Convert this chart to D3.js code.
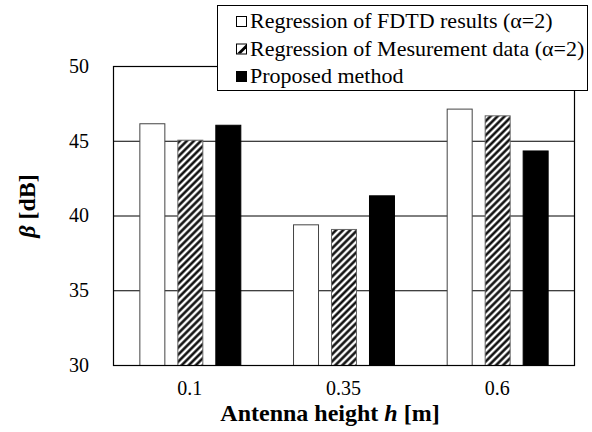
<!DOCTYPE html>
<html>
<head>
<meta charset="utf-8">
<script src="https://cdn.jsdelivr.net/npm/d3@7"></script>
<style>
    body { margin: 0; background: #fff; }
</style>
</head>
<body>
<div id="chart"></div>
<script>
const categories = ['0.1', '0.35', '0.6'];
const seriesNames = ['Regression of FDTD results (α=2)', 'Regression of Mesurement data (α=2)', 'Proposed method'];
const fdtdValues = [46.17, 39.41, 47.15];
const measuredValues = [45.07, 39.10, 46.70];
const proposedValues = [46.07, 41.35, 44.35];
const yTicks = [30, 35, 40, 45, 50];

const FONT = '"Liberation Serif", "Times New Roman", Times, serif';
const W = 592, H = 432;
const margin = { top: 66, right: 18, bottom: 67, left: 113 };
const width = W - margin.left - margin.right;
const height = H - margin.top - margin.bottom;

const svgRoot = d3.select('#chart')
    .append('svg')
        .attr('width', W)
        .attr('height', H)
        .style('font-family', FONT);

// hatch pattern for measured data
const defs = svgRoot.append('defs');
defs.append('pattern')
    .attr('id', 'hatch')
    .attr('patternUnits', 'userSpaceOnUse')
    .attr('width', 5)
    .attr('height', 5)
    .attr('patternTransform', 'rotate(45)')
    .call(p => {
        p.append('rect').attr('width', 5).attr('height', 5).attr('fill', '#fff');
        p.append('line').attr('x1', 1.5).attr('y1', 0).attr('x2', 1.5).attr('y2', 5)
            .attr('stroke', '#000').attr('stroke-width', 2.4);
    });

const svg = svgRoot.append('g')
    .attr('transform', 'translate(' + margin.left + ',' + margin.top + ')');

const series = [
    { name: seriesNames[0], values: fdtdValues, fill: '#fff', stroke: '#444' },
    { name: seriesNames[1], values: measuredValues, fill: 'url(#hatch)', stroke: '#666' },
    { name: seriesNames[2], values: proposedValues, fill: '#000', stroke: '#000' }
];

const x0 = d3.scaleBand()
    .domain(categories)
    .range([0, width])
    .paddingInner(0.343)
    .paddingOuter(0.1715);

const x1 = d3.scaleBand()
    .domain(d3.range(series.length))
    .range([0, x0.bandwidth()])
    .paddingInner(0.342)
    .paddingOuter(0);

const y = d3.scaleLinear()
    .domain([30, 50])
    .range([height, 0]);

// gridlines
svg.append('g')
    .selectAll('line')
    .data(yTicks.slice(1, -1))
    .enter().append('line')
        .attr('x1', 0)
        .attr('x2', width)
        .attr('y1', d => y(d) + 0.5)
        .attr('y2', d => y(d) + 0.5)
        .attr('stroke', '#000')
        .attr('stroke-width', 1);

// bars
const groups = svg.selectAll('.group')
    .data(categories)
    .enter().append('g')
        .attr('class', 'group')
        .attr('transform', d => 'translate(' + x0(d) + ',0)');

groups.selectAll('rect')
    .data((d, i) => series.map((s, j) => ({ j: j, s: s, v: s.values[i] })))
    .enter().append('rect')
        .attr('x', d => x1(d.j) + 0.5)
        .attr('y', d => y(d.v) + 0.5)
        .attr('width', x1.bandwidth())
        .attr('height', d => y(30) - y(d.v))
        .attr('fill', d => d.s.fill)
        .attr('stroke', d => d.s.stroke)
        .attr('stroke-width', 1);

// frame
svg.append('rect')
    .attr('x', 0.5)
    .attr('y', 0.5)
    .attr('width', width)
    .attr('height', height)
    .attr('fill', 'none')
    .attr('stroke', '#000')
    .attr('stroke-width', 1.2);

// y axis labels
const yAxis = d3.axisLeft(y).tickValues(yTicks).tickSize(0).tickPadding(24);
svg.append('g')
    .call(yAxis)
    .attr('font-family', null)
    .attr('font-size', null)
    .call(g => g.select('.domain').remove())
    .selectAll('text')
        .style('font-family', FONT)
        .style('font-size', '20px');

// x axis labels
const xAxis = d3.axisBottom(x0).tickSize(0).tickPadding(16);
svg.append('g')
    .attr('transform', 'translate(0,' + height + ')')
    .call(xAxis)
    .attr('font-family', null)
    .attr('font-size', null)
    .call(g => g.select('.domain').remove())
    .selectAll('text')
        .style('font-family', FONT)
        .style('font-size', '20px');

// axis titles
svgRoot.append('text')
    .attr('x', 330)
    .attr('y', 421)
    .attr('text-anchor', 'middle')
    .style('font-family', FONT)
    .style('font-size', '24px')
    .style('font-weight', 'bold')
    .call(t => {
        t.append('tspan').text('Antenna height ');
        t.append('tspan').style('font-style', 'italic').text('h');
        t.append('tspan').text(' [m]');
    });

svgRoot.append('text')
    .attr('transform', 'translate(35,206) rotate(-90)')
    .attr('text-anchor', 'middle')
    .style('font-family', FONT)
    .style('font-size', '24px')
    .style('font-weight', 'bold')
    .call(t => {
        t.append('tspan').style('font-style', 'italic').text('β');
        t.append('tspan').text('  [dB]');
    });

// legend
const legend = svgRoot.append('g');
legend.append('rect')
    .attr('x', 217.5)
    .attr('y', 5.5)
    .attr('width', 370)
    .attr('height', 85)
    .attr('fill', '#fff')
    .attr('stroke', '#000')
    .attr('stroke-width', 1);

const item = legend.selectAll('.item')
    .data(series)
    .enter().append('g')
        .attr('class', 'item')
        .attr('transform', (d, i) => 'translate(236,' + (28 + i * 27.5) + ')');

item.append('rect')
    .attr('x', 0.5)
    .attr('y', -11.5)
    .attr('width', 10)
    .attr('height', 10)
    .attr('fill', (d, i) => i === 1 ? '#fff' : d.fill)
    .attr('stroke', '#000')
    .attr('stroke-width', 1);

item.filter((d, i) => i === 1)
    .append('path')
        .attr('d', 'M1,-2 L10,-11 L10,-7 L5,-2 Z')
        .attr('fill', '#000');

item.append('text')
    .attr('x', 14)
    .attr('y', 0)
    .style('font-family', FONT)
    .style('font-size', '22px')
    .text(d => d.name);
</script>
</body>
</html>
